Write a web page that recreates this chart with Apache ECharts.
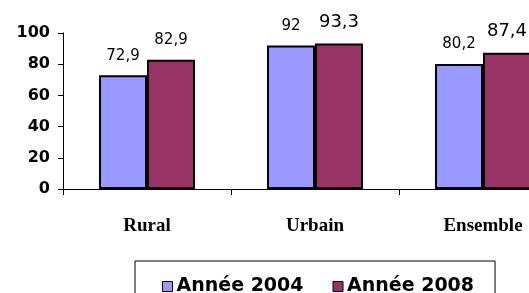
<!DOCTYPE html>
<html>
<head>
<meta charset="utf-8">
<script src="https://cdn.jsdelivr.net/npm/echarts@6/dist/echarts.min.js"></script>
<style>html,body{margin:0;padding:0;background:#fff;}#c{width:529px;height:293px;}</style>
</head>
<body>
<div id="c"></div>
<script>
const categories = ['Rural', 'Urbain', 'Ensemble'];
const seriesNames = ['Année 2004', 'Année 2008'];
const values2004 = [72.9, 92, 80.2];
const values2008 = [82.9, 93.3, 87.4];
const yTicks = [0, 20, 40, 60, 80, 100];

const chart = echarts.init(document.getElementById('c'), null, {renderer: 'canvas'});
const fmt = p => String(p.value).replace('.', ',');
const labelStyle = {show: true, position: 'top', distance: 12, formatter: fmt, color: '#000', fontFamily: 'DejaVu Sans', fontSize: 15};
chart.setOption({
  animation: false,
  backgroundColor: '#fff',
  grid: {left: 63, top: 33, height: 156, width: 504, containLabel: false, outerBoundsMode: 'none'},
  legend: {
    data: seriesNames,
    top: 261, left: 135,
    padding: [16, 21, 30, 27],
    borderColor: '#000', borderWidth: 1,
    itemWidth: 10, itemHeight: 10, itemGap: 29,
    icon: 'rect',
    itemStyle: {borderColor: '#000', borderWidth: 1},
    textStyle: {fontFamily: 'DejaVu Sans', fontWeight: 'bold', fontSize: 19, color: '#000', padding: [0,0,0,-1]}
  },
  xAxis: {
    type: 'category', data: categories,
    axisLine: {lineStyle: {color: '#000', width: 1}},
    axisTick: {show: true, length: 6, lineStyle: {color: '#000'}},
    axisLabel: {margin: 28, color: '#000', fontFamily: 'Liberation Serif', fontWeight: 'bold', fontSize: 19}
  },
  yAxis: {
    type: 'value', min: 0, max: 100, interval: 20,
    axisLine: {show: true, lineStyle: {color: '#000', width: 1}},
    axisTick: {show: true, length: 5, lineStyle: {color: '#000'}},
    splitLine: {show: false},
    axisLabel: {margin: 13, color: '#000', fontFamily: 'DejaVu Sans', fontWeight: 'bold', fontSize: 16,
      formatter: v => yTicks.includes(v) ? String(v) : ''}
  },
  series: [
    {name: seriesNames[0], type: 'bar', data: values2004, barWidth: 48, barGap: '0%',
      itemStyle: {color: '#9999FF', borderColor: '#000', borderWidth: 2}, label: labelStyle},
    {name: seriesNames[1], type: 'bar', barWidth: 48, barGap: '0%',
      data: values2008.map((v, i) => ({value: v, label: {fontSize: i === 0 ? 15 : 18}})),
      itemStyle: {color: '#993366', borderColor: '#000', borderWidth: 2}, label: labelStyle}
  ]
});
</script>
</body>
</html>
